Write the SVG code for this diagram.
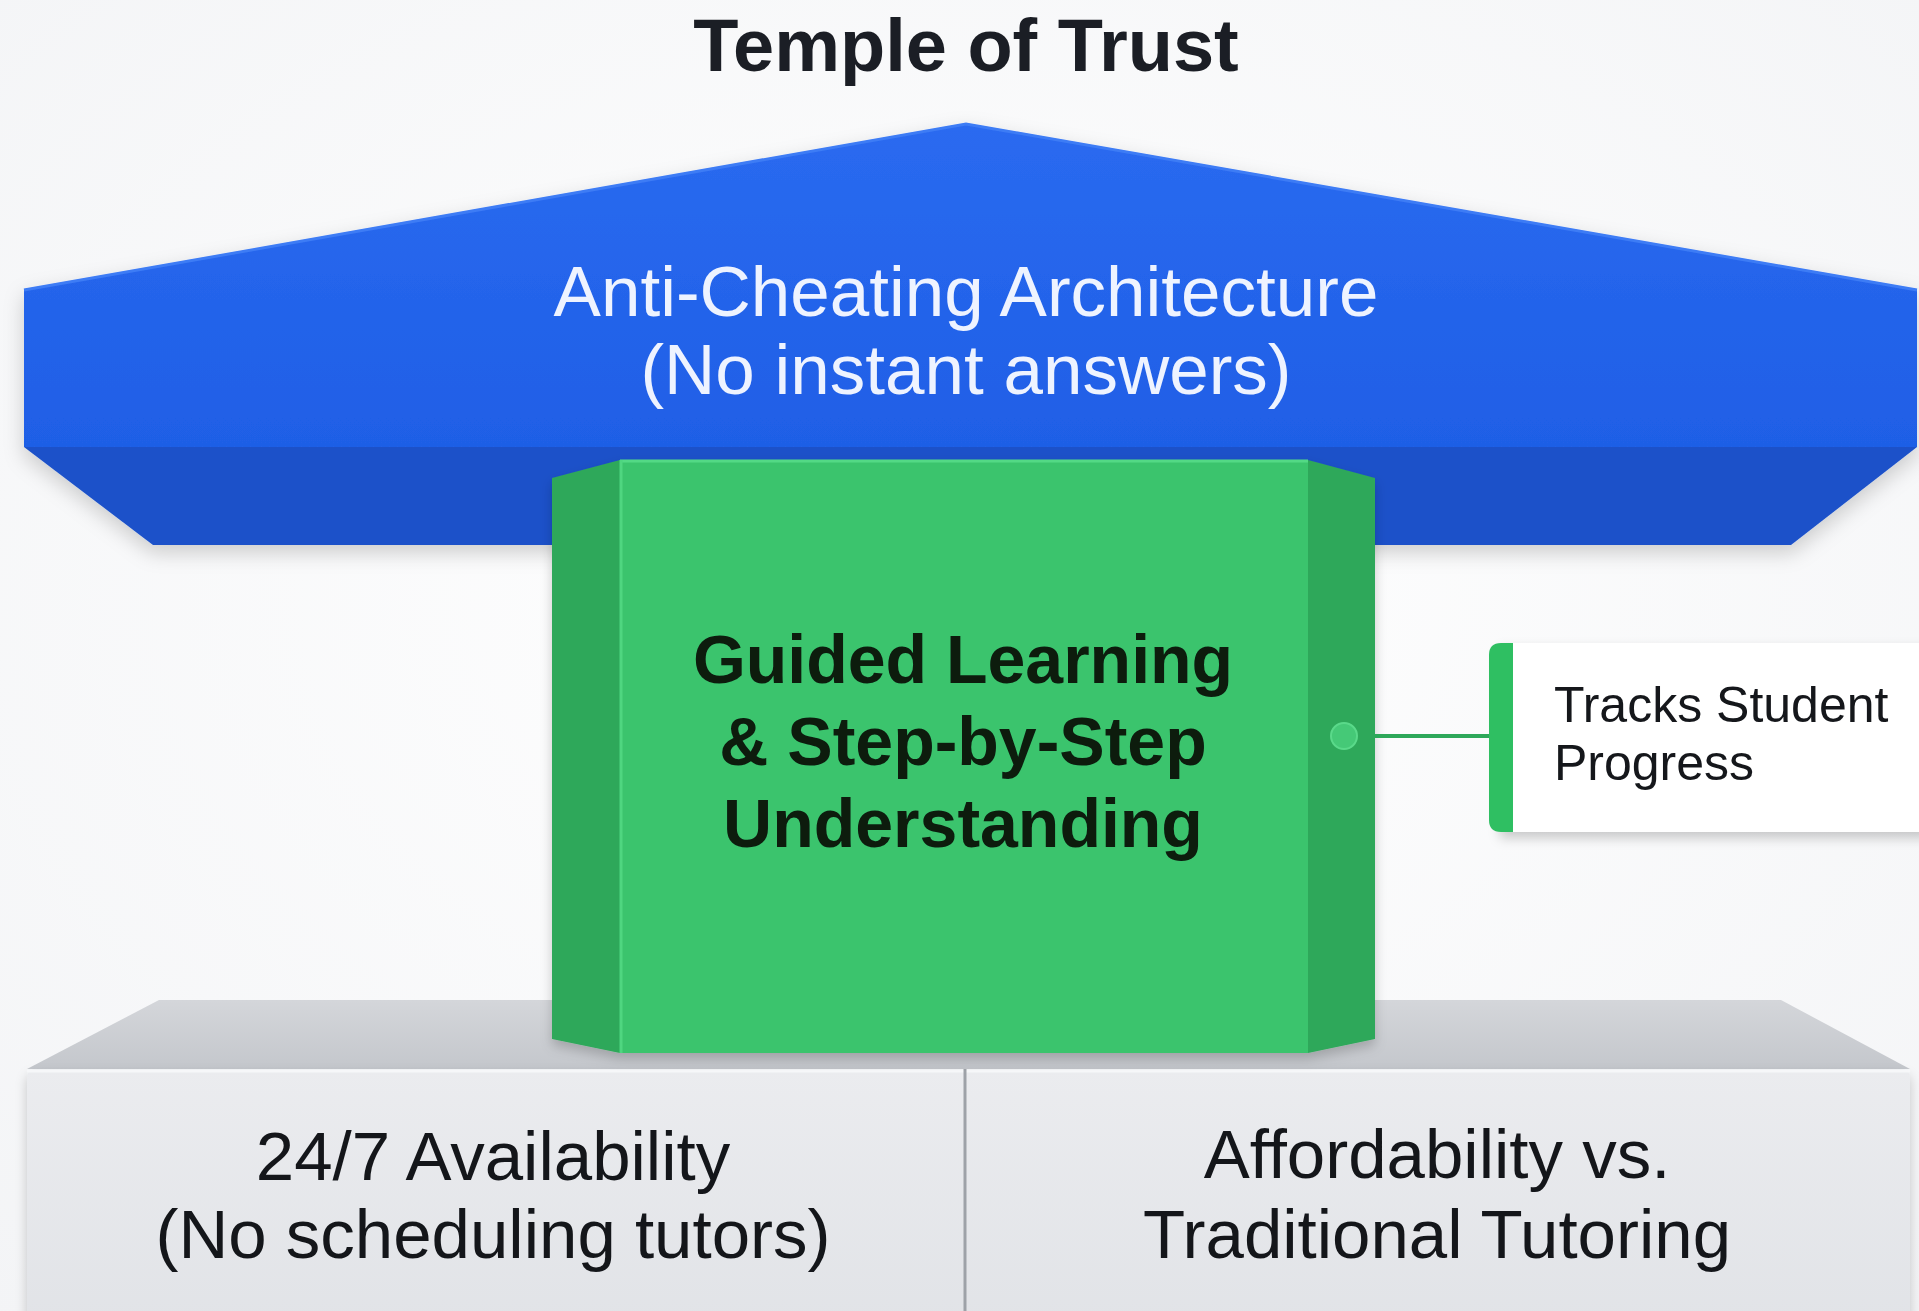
<svg xmlns="http://www.w3.org/2000/svg" width="1919" height="1311" viewBox="0 0 1919 1311">
<defs>
<radialGradient id="bg" cx="50%" cy="45%" r="75%">
<stop offset="0" stop-color="#ffffff"/>
<stop offset="1" stop-color="#f3f4f6"/>
</radialGradient>
<linearGradient id="roofTop" x1="0" y1="0" x2="0" y2="1">
<stop offset="0" stop-color="#2a6af0"/>
<stop offset="1" stop-color="#1f5fe6"/>
</linearGradient>
<linearGradient id="slabTop" x1="0" y1="0" x2="0" y2="1">
<stop offset="0" stop-color="#d4d6da"/>
<stop offset="1" stop-color="#c4c7cc"/>
</linearGradient>
<linearGradient id="baseFront" x1="0" y1="0" x2="0" y2="1">
<stop offset="0" stop-color="#ebecef"/>
<stop offset="1" stop-color="#e1e3e7"/>
</linearGradient>
<filter id="shadow" x="-10%" y="-10%" width="120%" height="130%">
<feDropShadow dx="0" dy="8" stdDeviation="10" flood-color="#000" flood-opacity="0.18"/>
</filter>
<filter id="shadowSm" x="-10%" y="-20%" width="120%" height="150%">
<feDropShadow dx="0" dy="6" stdDeviation="6" flood-color="#000" flood-opacity="0.2"/>
</filter>
</defs>
<style>
.title{font-family:"Liberation Sans",Arial,sans-serif;font-weight:bold;font-size:74px;fill:#1b1e25;text-anchor:middle}
.roofTxt{font-family:"Liberation Sans",Arial,sans-serif;font-size:71px;fill:#eef3ff;text-anchor:middle}
.pillarTxt{font-family:"Liberation Sans",Arial,sans-serif;font-weight:bold;font-size:68px;fill:#0b1a0f;text-anchor:middle}
.baseTxt{font-family:"Liberation Sans",Arial,sans-serif;font-size:69px;fill:#14161a;text-anchor:middle}
.callTxt{font-family:"Liberation Sans",Arial,sans-serif;font-size:50px;fill:#15171b}
</style>
<rect width="1919" height="1311" fill="url(#bg)"/>

<g id="title">
<text class="title" x="966" y="71">Temple of Trust</text>
</g>

<g id="base">
<polygon points="159,1000 1781,1000 1910,1069 27,1069" fill="url(#slabTop)"/>
<rect x="27" y="1069" width="1883" height="260" rx="8" fill="url(#baseFront)" filter="url(#shadowSm)"/>
<line x1="27" y1="1071" x2="1910" y2="1071" stroke="#f6f7f9" stroke-width="3"/>
<line x1="965" y1="1069" x2="965" y2="1311" stroke="#9ea2a8" stroke-width="3"/>
<text class="baseTxt" x="493" y="1180">24/7 Availability</text>
<text class="baseTxt" x="493" y="1258">(No scheduling tutors)</text>
<text class="baseTxt" x="1437" y="1178">Affordability vs.</text>
<text class="baseTxt" x="1437" y="1258">Traditional Tutoring</text>
</g>

<g id="roof" filter="url(#shadow)">
<polygon points="966,124 1917,290 1917,447 24,447 24,290" fill="url(#roofTop)"/>
<polyline points="24,290 966,124 1917,290" fill="none" stroke="#3d7bf5" stroke-width="3"/>
<polygon points="24,447 1917,447 1791,545 153,545" fill="#1b51c9"/>
<text class="roofTxt" x="966" y="316">Anti-Cheating Architecture</text>
<text class="roofTxt" x="966" y="394">(No instant answers)</text>
</g>

<g id="pillar" filter="url(#shadowSm)">
<polygon points="552,478 620,460 620,1053 552,1039" fill="#2ea85a"/>
<polygon points="1308,460 1375,478 1375,1039 1308,1053" fill="#2ea85a"/>
<rect x="620" y="460" width="688" height="593" fill="#3bc46d"/>
<line x1="620" y1="461" x2="1308" y2="461" stroke="#52d985" stroke-width="3"/>
<line x1="621" y1="460" x2="621" y2="1053" stroke="#4fd680" stroke-width="3"/>
<text class="pillarTxt" x="963" y="683">Guided Learning</text>
<text class="pillarTxt" x="963" y="765">&amp; Step-by-Step</text>
<text class="pillarTxt" x="963" y="847">Understanding</text>
</g>

<g id="connectors">
<line x1="1344" y1="736" x2="1491" y2="736" stroke="#2ea85a" stroke-width="4"/>
<circle cx="1344" cy="736" r="13" fill="#45c977" stroke="#5ad98a" stroke-width="2"/>
</g>

<g id="callout">
<rect x="1500" y="643" width="430" height="189" fill="#ffffff" filter="url(#shadowSm)"/>
<path d="M1513,643 L1501,643 Q1489,643 1489,655 L1489,820 Q1489,832 1501,832 L1513,832 Z" fill="#2fbf62"/>
<text class="callTxt" x="1554" y="722">Tracks Student</text>
<text class="callTxt" x="1554" y="780">Progress</text>
</g>
</svg>
